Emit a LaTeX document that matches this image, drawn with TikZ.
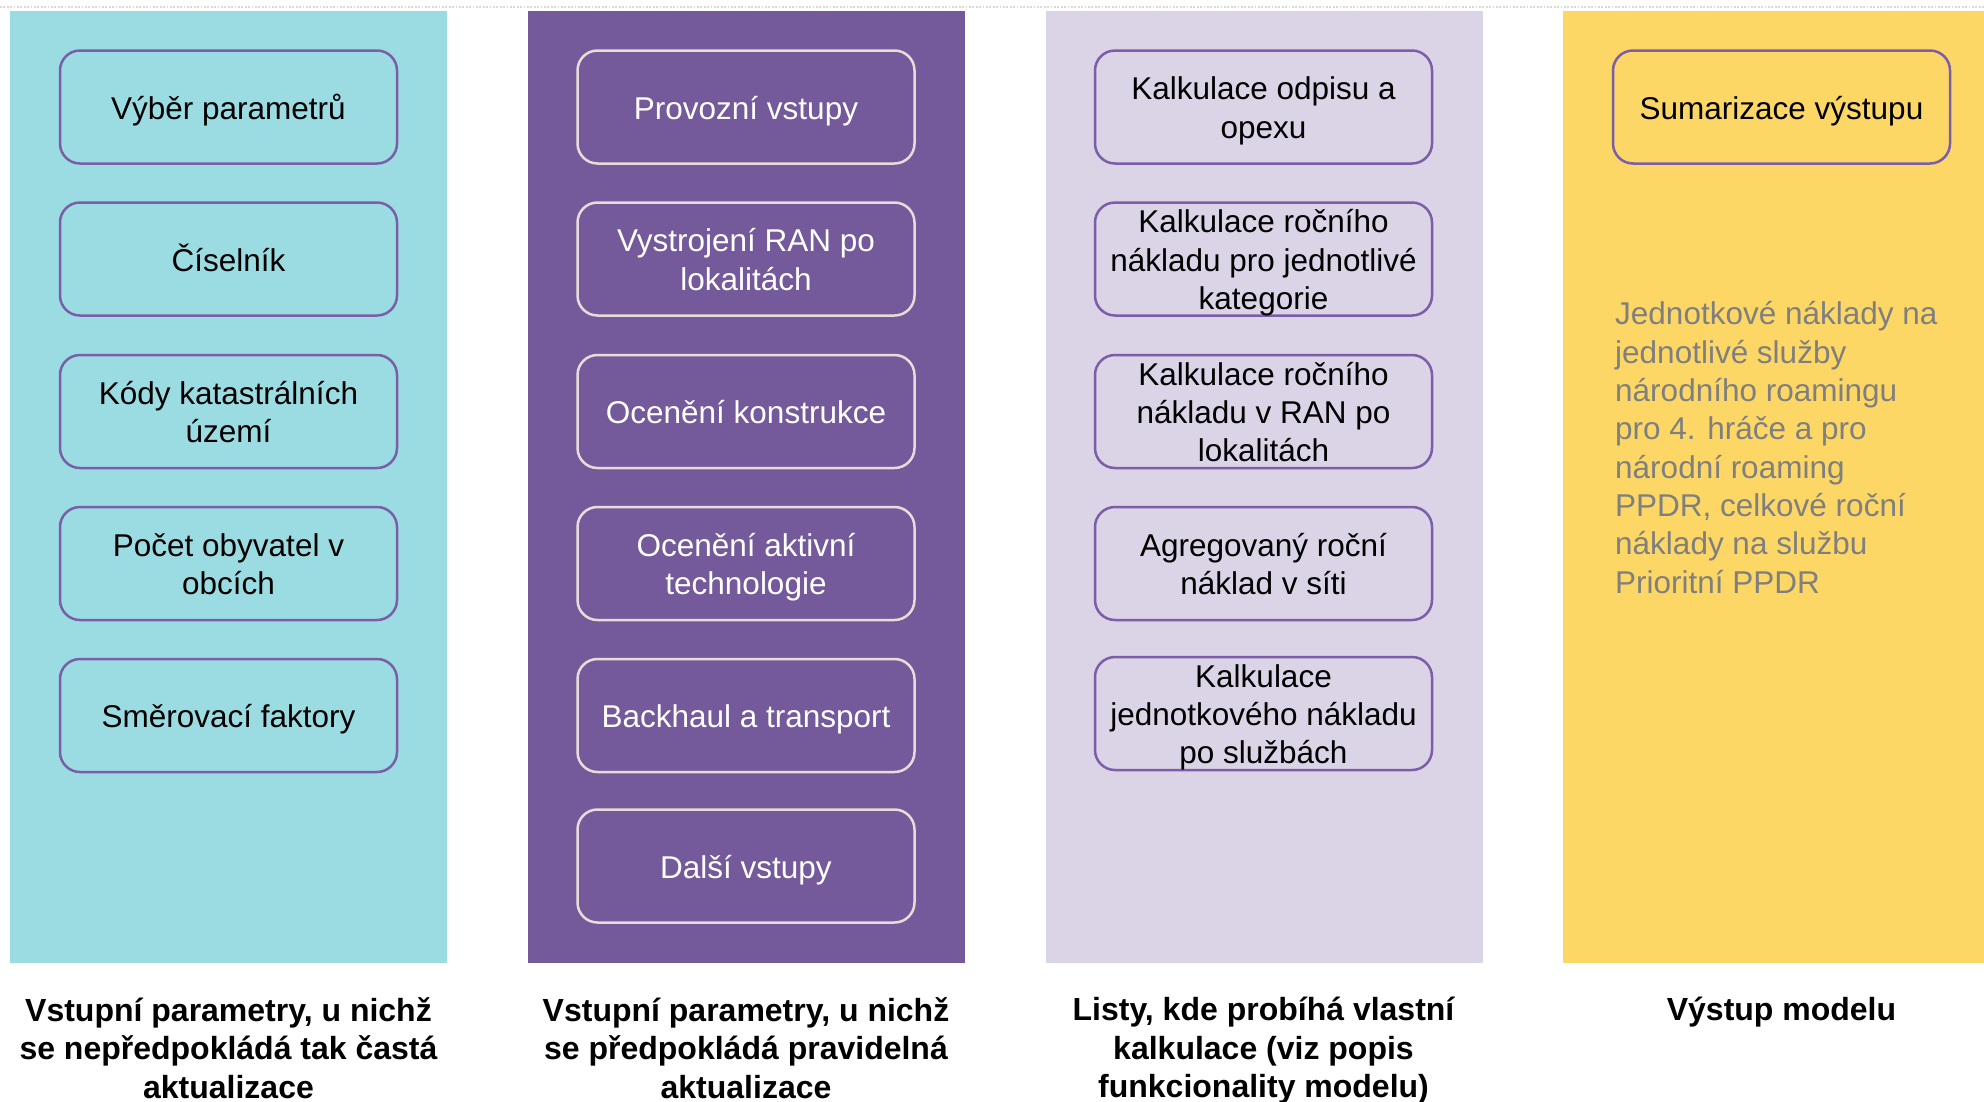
\documentclass[tikz,border=0pt]{standalone}
\usepackage{fontspec}
\setmainfont{Liberation Sans}
\definecolor{colcyan}{HTML}{9BDCE2}
\definecolor{colpurple}{HTML}{745A9B}
\definecolor{collav}{HTML}{DBD3E6}
\definecolor{colyellow}{HTML}{FDD766}
\definecolor{bordpurple}{HTML}{7B5EA8}
\definecolor{bordlight}{HTML}{E6DCD8}
\definecolor{graytext}{HTML}{7F7F7F}
\definecolor{dotcol}{HTML}{E2D6D2}
\newsavebox\bxbox
\newcommand\bxt[1]{\sbox\bxbox{\begin{tabular}{@{}c@{}}\rule{0pt}{35.5pt}#1\end{tabular}}%
  \raisebox{0pt}[\dimexpr\ht\bxbox-6pt\relax][\dimexpr\dp\bxbox-6pt\relax]{\usebox\bxbox}}
\begin{document}
\begin{tikzpicture}[x=1pt,y=-1pt,
  stepbox/.style={draw=bordpurple, rounded corners=20pt, line width=2.5pt,
    minimum width=337pt, minimum height=113pt, inner sep=0pt,
    font=\fontsize{31.5}{38.3}\selectfont, text=black},
  lightbox/.style={stepbox, draw=bordlight, text=white},
  caption/.style={anchor=north, align=center, inner sep=0pt,
    font=\bfseries\fontsize{32}{38.5}\selectfont, text=black}]
\useasboundingbox (0,0) rectangle (1984,1101);
% top dotted line
\draw[dotcol, line width=1.5pt, dash pattern=on 1.7pt off 1.7pt] (0,7) -- (1984,7);
% columns
\fill[colcyan] (10,11) rectangle (447,963);
\fill[colpurple] (528,11) rectangle (965,963);
\fill[collav] (1046,11) rectangle (1483,963);
\fill[colyellow] (1563,11) rectangle (1984,963);
% column 1
\node[stepbox] (a1) at (228.5,107) {\bxt{Výběr parametrů}};
\node[stepbox] (a2) at (228.5,259) {\bxt{Číselník}};
\node[stepbox] (a3) at (228.5,411.5) {\bxt{Kódy katastrálních\\území}};
\node[stepbox] (a4) at (228.5,563.5) {\bxt{Počet obyvatel v\\obcích}};
\node[stepbox] (a5) at (228.5,715.5) {\bxt{Směrovací faktory}};
% column 2
\node[lightbox] (b1) at (746,107) {\bxt{Provozní vstupy}};
\node[lightbox] (b2) at (746,259) {\bxt{Vystrojení RAN po\\lokalitách}};
\node[lightbox] (b3) at (746,411.5) {\bxt{Ocenění konstrukce}};
\node[lightbox] (b4) at (746,563.5) {\bxt{Ocenění aktivní\\technologie}};
\node[lightbox] (b5) at (746,715.5) {\bxt{Backhaul a transport}};
\node[lightbox] (b6) at (746,866) {\bxt{Další vstupy}};
% column 3
\node[stepbox] (c1) at (1263.5,107) {\bxt{Kalkulace odpisu a\\opexu}};
\node[stepbox] (c2) at (1263.5,259) {\bxt{Kalkulace ročního\\nákladu pro jednotlivé\\kategorie}};
\node[stepbox] (c3) at (1263.5,411.5) {\bxt{Kalkulace ročního\\nákladu v RAN po\\lokalitách}};
\node[stepbox] (c4) at (1263.5,563.5) {\bxt{Agregovaný roční\\náklad v síti}};
\node[stepbox] (c5) at (1263.5,713.5) {\bxt{Kalkulace\\jednotkového nákladu\\po službách}};
% column 4
\node[stepbox] (d1) at (1781.5,107) {\bxt{Sumarizace výstupu}};
\node[anchor=north west, align=left, inner sep=0pt, text=graytext,
  font=\fontsize{31.5}{38.3}\selectfont] (d2) at (1615,301.5)
  {Jednotkové náklady na\\jednotlivé služby\\národního roamingu\\pro 4. hráče a pro\\národní roaming\\PPDR, celkové roční\\náklady na službu\\Prioritní PPDR};
% captions
\node[caption] (t1) at (228.5,997) {Vstupní parametry, u nichž\\se nepředpokládá tak častá\\aktualizace};
\node[caption] (t2) at (746,997) {Vstupní parametry, u nichž\\se předpokládá pravidelná\\aktualizace};
\node[caption] (t3) at (1263.5,997) {Listy, kde probíhá vlastní\\kalkulace (viz popis\\funkcionality modelu)};
\node[caption] (t4) at (1781.5,997) {Výstup modelu};
\end{tikzpicture}
\end{document}
